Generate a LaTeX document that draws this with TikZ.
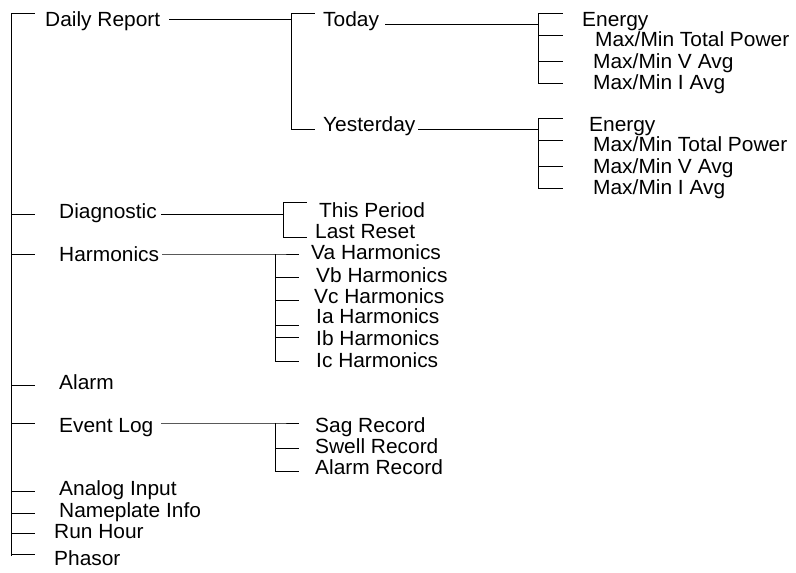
\documentclass[tikz,border=0pt]{standalone}
\usepackage{fontspec}
\setmainfont{Liberation Sans}[FakeStretch=1.02]
\tikzset{item/.style={anchor=base west, inner sep=0pt, font=\fontsize{20.5}{22}\selectfont},
         tree/.style={line width=1pt, line cap=rect}}

\begin{document}
\begin{tikzpicture}[x=1pt,y=-1pt]
    \useasboundingbox(0,0)rectangle(796,573);
    % main menu
    \coordinate(root)at(11,13);
    \coordinate(rootend)at(11,555);
    \draw[tree](root)--(rootend);
    \foreach \y in {13,214,254,385,423,491,513,533,554}
        \draw[tree](root|-0,\y)--++(23,0);
    \node[item](daily)at(45,26){Daily Report};
    \node[item](diag)at(59,218){Diagnostic};
    \node[item](harm)at(59,261){Harmonics};
    \node[item](alarm)at(59,389){Alarm};
    \node[item](event)at(59,432){Event Log};
    \node[item](analog)at(59,495){Analog Input};
    \node[item](nameplate)at(59,517){Nameplate Info};
    \node[item](runhour)at(54,538){Run Hour};
    \node[item](phasor)at(54,565){Phasor};

    % daily report
    \coordinate(dtop)at(291,13);
    \coordinate(dbot)at(291,129);
    \draw[tree](daily.east|-0,19)++(9,0)--(dtop|-0,19);
    \draw[tree](dtop)--(dbot);
    \draw[tree](dtop)--++(23,0);
    \draw[tree](dbot)--++(23,0);
    \node[item](today)at(323,26){Today};
    \node[item](yesterday)at(323,131){Yesterday};

    % today
    \coordinate(ttop)at(538,13);
    \coordinate(tbot)at(538,83);
    \draw[tree](today.east|-0,24)++(6,0)--(ttop|-0,24);
    \draw[tree](ttop)--(tbot);
    \foreach \y in {13,35,61,83}
        \draw[tree](ttop|-0,\y)--++(24,0);
    \node[item](tenergy)at(582,26){Energy};
    \node[item](tpower)at(595,46){Max/Min Total Power};
    \node[item](tvolt)at(593,68){Max/Min V Avg};
    \node[item](tcurr)at(593,89){Max/Min I Avg};

    % yesterday
    \coordinate(ytop)at(538,118);
    \coordinate(ybot)at(538,188);
    \draw[tree](yesterday.east|-0,129)++(3,0)--(ytop|-0,129);
    \draw[tree](ytop)--(ybot);
    \foreach \y in {118,140,166,188}
        \draw[tree](ytop|-0,\y)--++(24,0);
    \node[item](yenergy)at(589,131){Energy};
    \node[item](ypower)at(593,151){Max/Min Total Power};
    \node[item](yvolt)at(593,173){Max/Min V Avg};
    \node[item](ycurr)at(593,194){Max/Min I Avg};

    % diagnostic
    \coordinate(ptop)at(283,202);
    \coordinate(pbot)at(283,237);
    \draw[tree](diag.east|-0,214)++(4,0)--(ptop|-0,214);
    \draw[tree](ptop)--(pbot);
    \draw[tree](ptop)--++(23,0);
    \draw[tree](pbot)--++(23,0);
    \node[item](period)at(319,217){This Period};
    \node[item](reset)at(315,238){Last Reset};

    % harmonics
    \coordinate(htop)at(275,254);
    \coordinate(hbot)at(275,361);
    \draw[tree](harm.east|-0,254)++(3,0)--(htop)--++(23,0);
    \draw[tree](htop)--(hbot);
    \foreach \y in {277,300,325,337,361}
        \draw[tree](htop|-0,\y)--++(23,0);
    \node[item](va)at(311,259){Va Harmonics};
    \node[item](vb)at(316,282){Vb Harmonics};
    \node[item](vc)at(314,303){Vc Harmonics};
    \node[item](ia)at(316,323){Ia Harmonics};
    \node[item](ib)at(316,345){Ib Harmonics};
    \node[item](ic)at(316,367){Ic Harmonics};

    % event log
    \coordinate(etop)at(275,423);
    \coordinate(ebot)at(275,471);
    \draw[tree](event.east|-0,423)++(8,0)--(etop)--++(23,0);
    \draw[tree](etop)--(ebot);
    \foreach \y in {448,471}
        \draw[tree](etop|-0,\y)--++(23,0);
    \node[item](sag)at(315,432){Sag Record};
    \node[item](swell)at(315,453){Swell Record};
    \node[item](alarmrec)at(315,474){Alarm Record};
\end{tikzpicture}
\end{document}
